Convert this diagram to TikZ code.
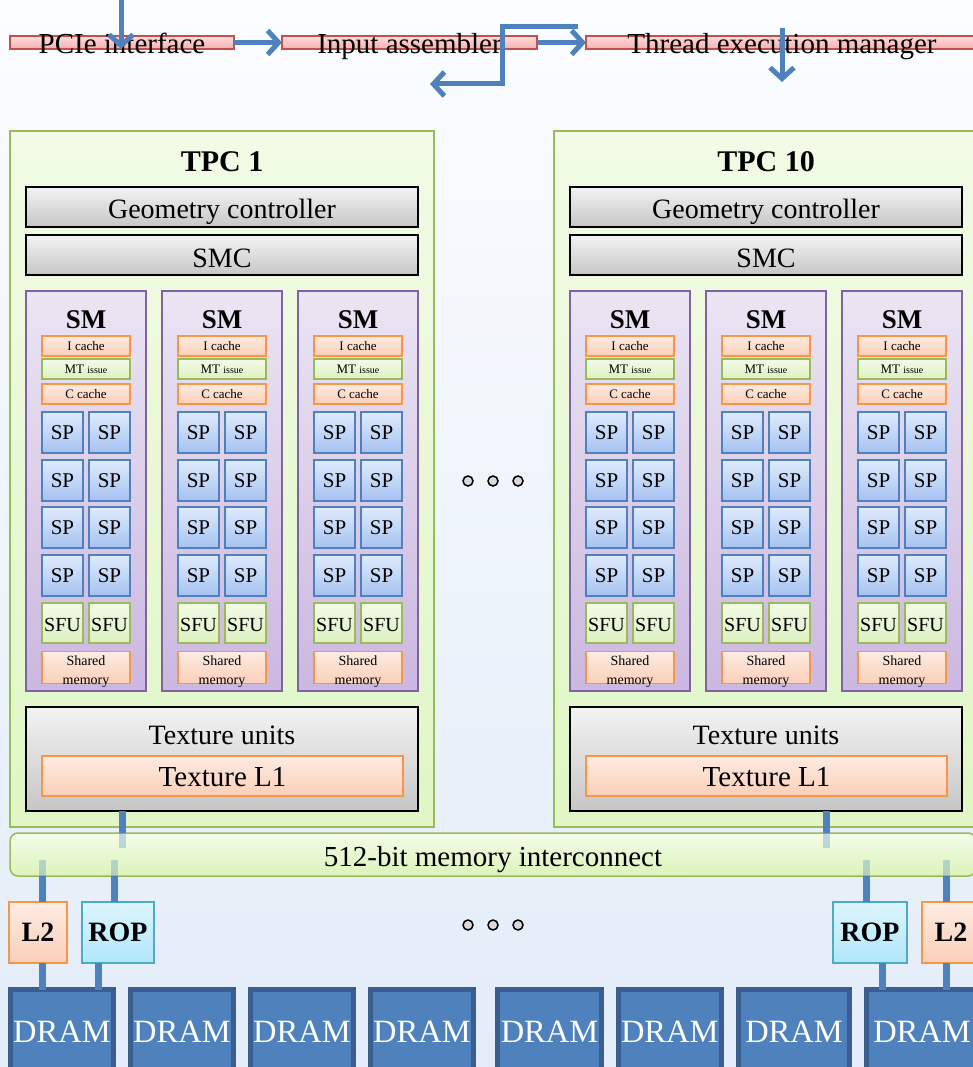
\documentclass[tikz,border=0pt]{standalone}
\usepackage{fontspec}
\setmainfont{Liberation Serif}
\usetikzlibrary{arrows.meta,calc}
\definecolor{arrowblue}{HTML}{4F81BD}
\definecolor{darkblue}{HTML}{3A5F8F}
\definecolor{tpcgreen}{HTML}{9BBB59}
\definecolor{smpurple}{HTML}{8064A2}
\definecolor{orng}{HTML}{F79646}
\definecolor{ropcyan}{HTML}{4BACC6}
\definecolor{barred}{HTML}{C0504D}
\definecolor{bgtop}{HTML}{FBFDFF}
\definecolor{bgbot}{HTML}{E3ECF8}
\definecolor{tpctop}{HTML}{F1FBE6}
\definecolor{tpcbot}{HTML}{E0F6C6}
\definecolor{smtop}{HTML}{EBE5F3}
\definecolor{smbot}{HTML}{CBB7E0}
\definecolor{peachtop}{HTML}{FDEBE2}
\definecolor{peachbot}{HTML}{FBCFB8}
\definecolor{mttop}{HTML}{F3FBE8}
\definecolor{mtbot}{HTML}{DDF0C0}
\definecolor{sptop}{HTML}{DFEBFC}
\definecolor{spbot}{HTML}{A6C2F2}
\definecolor{roptop}{HTML}{DDF5FD}
\definecolor{ropbot}{HTML}{B1E6FA}
\definecolor{ictop}{HTML}{F4FCE9}
\definecolor{icbot}{HTML}{DCF3BA}
\definecolor{pinktop}{HTML}{FFDCDC}
\definecolor{pinkbot}{HTML}{F5AFAF}
\definecolor{graytop}{HTML}{F3F3F3}
\definecolor{graybot}{HTML}{C6C6C6}
\newcommand{\fsz}[1]{\fontsize{#1}{#1}\selectfont}
\newcommand{\vshift}[2]{\raisebox{#1}[\height][\depth]{#2}}
\newcommand{\bx}[7]{\node[#6, minimum width={(#4)-(#2)}, minimum height={(#5)-(#3)}] (#1) at ({((#2)+(#4))/2},{((#3)+(#5))/2}) {#7};}
\tikzset{
  base/.style={inner sep=0pt, outer sep=0pt},
  pbar/.style={base, draw=barred, line width=1.5pt, top color=pinktop, bottom color=pinkbot},
  tpc/.style={base, draw=tpcgreen, line width=1.5pt, top color=tpctop, bottom color=tpcbot},
  graybox/.style={base, draw=black, line width=1.5pt, top color=graytop, bottom color=graybot},
  smbox/.style={base, draw=smpurple, line width=1.5pt, top color=smtop, bottom color=smbot},
  peach/.style={base, draw=orng, line width=1.5pt, top color=peachtop, bottom color=peachbot},
  mtbox/.style={base, draw=tpcgreen, line width=1.5pt, top color=mttop, bottom color=mtbot},
  spbox/.style={base, draw=arrowblue, line width=1.5pt, top color=sptop, bottom color=spbot, font=\fsz{21}},
  sfubox/.style={base, draw=tpcgreen, line width=1.5pt, top color=mttop, bottom color=mtbot, font=\fsz{20}},
  ropbox/.style={base, draw=ropcyan, line width=1.5pt, top color=roptop, bottom color=ropbot, font=\fsz{28}\bfseries},
  l2box/.style={base, draw=orng, line width=1.5pt, top color=peachtop, bottom color=peachbot, font=\fsz{28}\bfseries},
  icbox/.style={base, draw=tpcgreen, line width=1.5pt, rounded corners=8pt, top color=ictop, bottom color=icbot, font=\fsz{29}},
  dram/.style={base, draw=darkblue, line width=5pt, fill=arrowblue, text=white, font=\fsz{32.5}},
  bus/.style={draw=arrowblue, line width=7pt},
  fadebus/.style={draw=arrowblue, line width=7pt, opacity=0.3},
  flow/.style={draw=arrowblue, line width=5pt, line join=miter, -{Straight Barb[length=11pt,width=24pt]}},
  dot/.style={circle, inner sep=0pt, minimum size=10pt, draw=black, line width=1.5pt, fill=gray!30},
  lbl/.style={base},
}
\begin{document}
\begin{tikzpicture}[x=1pt,y=-1pt]
\useasboundingbox (0,0) rectangle (973,1067);
\fill[top color=bgtop,bottom color=bgbot] (0,0) rectangle (973,1067);

% top pipeline
\bx{pcie}{10}{36}{234}{49}{pbar}{\smash{\raisebox{-11pt}{\fsz{29}PCIe interface}}}
\bx{inasm}{282}{36}{537}{49}{pbar}{\smash{\raisebox{-11pt}{\fsz{29}Input assembler}}}
\bx{tem}{586}{36}{978}{49}{pbar}{\smash{\raisebox{-11pt}{\fsz{29}Thread execution manager}}}
\coordinate (hostin) at (121,0);
\coordinate (fbin) at (578,27);
\coordinate (bend) at (502,84);
\coordinate (fbout) at (430,84);
\coordinate (temtop) at (782,28);
\coordinate (temout) at (782,82);
\draw[flow] (hostin) -- (hostin |- pcie.south);
\draw[flow] (pcie.east) -- (inasm.west);
\draw[flow] (inasm.east) -- (tem.west);
\draw[flow] (fbin) -| (bend) -- (fbout);
\draw[flow] (temtop) -- (temout);

% TPCs
\foreach \ox/\nm/\ttl in {0/a/1, 544/b/10} {
  \bx{tpc\nm}{10+\ox}{131}{434+\ox}{827}{tpc}{}
  \node[lbl, font=\fsz{30}\bfseries] (ttl\nm) at (222+\ox,162) {TPC \ttl};
  \bx{geo\nm}{26+\ox}{187}{418+\ox}{227}{graybox}{\vshift{-5pt}{\fsz{28}Geometry controller}}
  \bx{smc\nm}{26+\ox}{235}{418+\ox}{275}{graybox}{\vshift{-3pt}{\fsz{28}SMC}}
  \foreach \s/\k in {0/1,136/2,272/3} {
    \bx{sm\nm\k}{26+\ox+\s}{291}{146+\ox+\s}{691}{smbox}{}
    \node[lbl, font=\fsz{27}\bfseries] (smt\nm\k) at (86+\ox+\s,320) {SM};
    \bx{icache\nm\k}{42+\ox+\s}{336}{130+\ox+\s}{356}{peach}{\fsz{13}I cache}
    \bx{mt\nm\k}{42+\ox+\s}{359}{130+\ox+\s}{379}{mtbox}{\fsz{13}MT {\fsz{10}issue}}
    \bx{cc\nm\k}{42+\ox+\s}{384}{130+\ox+\s}{404}{peach}{\fsz{13}C cache}
    \foreach \r/\yy in {1/412,2/460,3/507,4/555} {
      \bx{spl\nm\k\r}{42+\ox+\s}{\yy}{83+\ox+\s}{\yy+41}{spbox}{SP}
      \bx{spr\nm\k\r}{89+\ox+\s}{\yy}{130+\ox+\s}{\yy+41}{spbox}{SP}
    }
    \bx{sfl\nm\k}{42+\ox+\s}{603}{83+\ox+\s}{643}{sfubox}{\vshift{-2pt}{SFU}}
    \bx{sfr\nm\k}{89+\ox+\s}{603}{130+\ox+\s}{643}{sfubox}{\vshift{-2pt}{SFU}}
    \bx{shm\nm\k}{42+\ox+\s}{652}{130+\ox+\s}{683}{peach}{\vshift{-4pt}{\parbox{80pt}{\centering\fontsize{14}{19}\selectfont Shared\\memory}}}
  }
  \bx{texu\nm}{26+\ox}{707}{418+\ox}{811}{graybox}{}
  \node[lbl, font=\fsz{28}] (texut\nm) at (222+\ox,735) {Texture units};
  \bx{texl\nm}{42+\ox}{756}{403+\ox}{796}{peach}{\vshift{-1pt}{\fsz{29}Texture L1}}
}
\node[dot] (d1) at (468,481) {};
\node[dot] (d2) at (493,481) {};
\node[dot] (d3) at (518,481) {};

% interconnect
\bx{ic}{10}{833}{976}{876}{icbox}{\vshift{-5pt}{512-bit memory interconnect}}
\draw[bus] ([xshift=-100pt]texua.south) -- ([xshift=-100pt]texua.south |- ic.north);
\draw[fadebus] ([xshift=-100pt]texua.south |- ic.north) -- ++(0,15);
\draw[bus] ([xshift=60pt]texub.south) -- ([xshift=60pt]texub.south |- ic.north);
\draw[fadebus] ([xshift=60pt]texub.south |- ic.north) -- ++(0,15);

% L2 / ROP
\bx{l2a}{9}{902}{67}{963}{l2box}{L2}
\bx{ropa}{82}{902}{154}{963}{ropbox}{ROP}
\bx{ropb}{833}{902}{907}{963}{ropbox}{ROP}
\bx{l2b}{922}{902}{980}{963}{l2box}{L2}
\node[dot] (d4) at (468,925) {};
\node[dot] (d5) at (493,925) {};
\node[dot] (d6) at (518,925) {};

% DRAMs
\foreach \i/\xa/\xb in {1/10.5/113.5, 2/130.5/233.5, 3/250.5/353.5, 4/370.5/473.5, 5/497.5/601.5, 6/618.5/721, 7/738.5/849.5, 8/866.5/977.5} {
  \bx{dram\i}{\xa}{989.5}{\xb}{1080}{dram}{\vshift{3pt}{DRAM}}
}

% bus links
\draw[bus] ([xshift=4pt]l2a.north) -- ([xshift=4pt]l2a.north |- ic.south);
\draw[fadebus] ([xshift=4pt]l2a.north |- ic.south) -- ++(0,-16);
\draw[bus] ([xshift=-4pt]ropa.north) -- ([xshift=-4pt]ropa.north |- ic.south);
\draw[fadebus] ([xshift=-4pt]ropa.north |- ic.south) -- ++(0,-16);
\draw[bus] ([xshift=-4pt]ropb.north) -- ([xshift=-4pt]ropb.north |- ic.south);
\draw[fadebus] ([xshift=-4pt]ropb.north |- ic.south) -- ++(0,-16);
\draw[bus] ([xshift=-5pt]l2b.north) -- ([xshift=-5pt]l2b.north |- ic.south);
\draw[fadebus] ([xshift=-5pt]l2b.north |- ic.south) -- ++(0,-16);
\draw[bus] ([xshift=4pt]l2a.south) -- ([xshift=4pt]l2a.south |- dram1.north);
\draw[bus] ([xshift=-20pt]ropa.south) -- ([xshift=-20pt]ropa.south |- dram1.north);
\draw[bus] ([xshift=12pt]ropb.south) -- ([xshift=12pt]ropb.south |- dram8.north);
\draw[bus] ([xshift=-5pt]l2b.south) -- ([xshift=-5pt]l2b.south |- dram8.north);
\end{tikzpicture}
\end{document}
